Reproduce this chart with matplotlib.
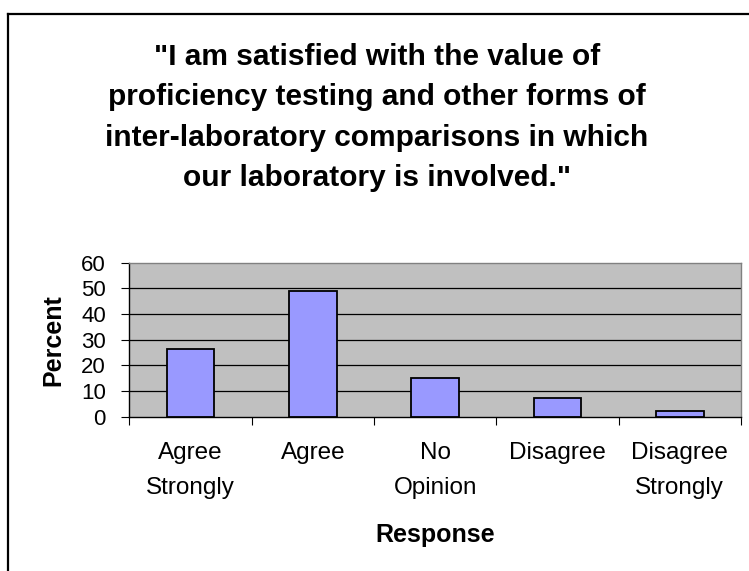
import matplotlib
matplotlib.use("Agg")
import matplotlib.pyplot as plt
from matplotlib.lines import Line2D

plt.rcParams["font.family"] = ["Liberation Sans", "DejaVu Sans"]

categories = ["Agree\nStrongly", "Agree", "No\nOpinion", "Disagree", "Disagree\nStrongly"]
percent = [26.5, 49.1, 15.0, 7.2, 2.3]
y_ticks = [0, 10, 20, 30, 40, 50, 60]

title = ('"I am satisfied with the value of\n'
         'proficiency testing and other forms of\n'
         'inter-laboratory comparisons in which\n'
         'our laboratory is involved."')

W, H = 749, 571
fig = plt.figure(figsize=(W / 100, H / 100), dpi=100)
fig.patch.set_facecolor("white")

ax = fig.add_axes([129.3 / W, 1 - 416.7 / H, (741 - 129.3) / W, 154 / H])
ax.set_facecolor("#C0C0C0")

x = list(range(len(categories)))
ax.bar(x, percent, width=0.39, color="#9999FF", edgecolor="black", linewidth=1.3, zorder=3)

ax.set_xlim(-0.5, len(categories) - 0.5)
ax.set_ylim(0, 60)
ax.set_yticks(y_ticks)
ax.set_yticklabels([str(v) for v in y_ticks], fontsize=16)
for v in y_ticks[1:-1]:
    ax.axhline(v, color="black", linewidth=0.9, zorder=1)

# ticks between categories, labels at the centres
ax.set_xticks([i - 0.5 for i in range(len(categories) + 1)])
ax.set_xticklabels([])
ax.set_xticks(x, minor=True)
ax.set_xticklabels(categories, minor=True, fontsize=17.5, linespacing=1.8)
ax.tick_params(axis="x", which="major", length=5.5, width=0.8, direction="out")
ax.tick_params(axis="x", which="minor", length=0, pad=18)
ax.tick_params(axis="y", length=5.8, width=0.8, pad=11)

ax.spines["left"].set_color("black")
ax.spines["bottom"].set_color("black")
ax.spines["top"].set_color("#808080")
ax.spines["right"].set_color("#808080")
for s in ax.spines.values():
    s.set_linewidth(1.0)

fig.text(0.503, 1 - 117.5 / H, title, ha="center", va="center", fontsize=21.5,
         fontweight="bold", linespacing=1.55, multialignment="center")
fig.text(53 / W, 1 - 339.7 / H, "Percent", rotation=90, ha="center", va="center",
         fontsize=18, fontweight="bold")
fig.text(435 / W, 1 - 535 / H, "Response", ha="center", va="center",
         fontsize=18, fontweight="bold")

# outer chart border (only top and left visible)
fig.add_artist(Line2D([8 / W, 1.0], [1 - 14 / H, 1 - 14 / H], color="black",
                      linewidth=1.6, transform=fig.transFigure))
fig.add_artist(Line2D([8 / W, 8 / W], [0.0, 1 - 14 / H], color="black",
                      linewidth=1.6, transform=fig.transFigure))

fig.savefig("out.png", dpi=100)
